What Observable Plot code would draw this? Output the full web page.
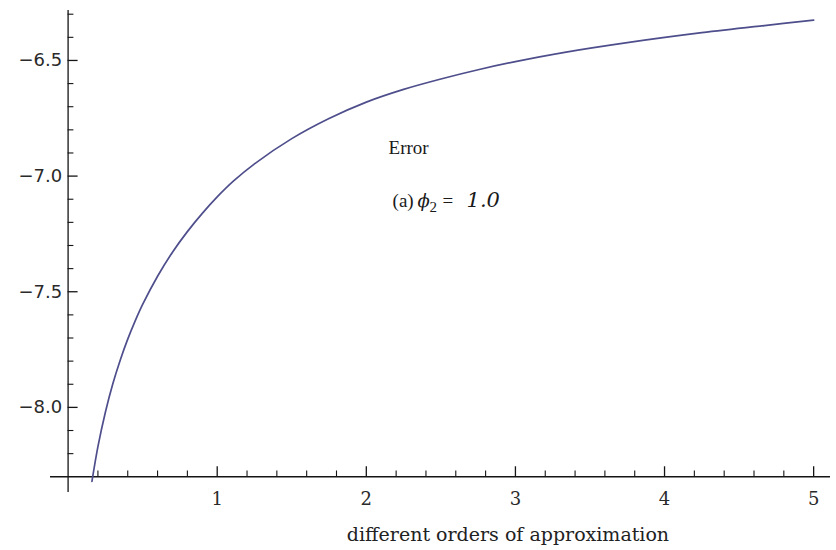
<!DOCTYPE html>
<html>
<head>
<meta charset="utf-8">
<script src="https://cdn.jsdelivr.net/npm/d3@7"></script>
<script src="https://cdn.jsdelivr.net/npm/@observablehq/plot@0.6"></script>
<style>
  body { margin: 0; background: #ffffff; }
  #chart svg { display: block; background: #ffffff; }
</style>
</head>
<body>
<div id="chart"></div>
<script>
// Error curve against the order of approximation
const orders = [0.16, 0.20, 0.25, 0.30, 0.35, 0.40, 0.45, 0.50, 0.60, 0.70, 0.80, 0.90, 1.00, 1.11,
                1.25, 1.50, 1.75, 2.00, 2.25, 2.50, 2.75, 3.00, 3.33, 3.75, 4.25, 4.67, 5.00];
const errorValues = [-8.32, -8.17, -8.021, -7.898, -7.795, -7.705, -7.626, -7.555, -7.433, -7.329, -7.24, -7.161, -7.09, -7.021,
                     -6.947, -6.838, -6.751, -6.68, -6.625, -6.58, -6.54, -6.505, -6.465, -6.423, -6.38, -6.349, -6.326];

// Axis ticks and labels
const xMajorTicks = [1, 2, 3, 4, 5];
const xMinorTicks = [0.2, 0.4, 0.6, 0.8, 1.2, 1.4, 1.6, 1.8, 2.2, 2.4, 2.6, 2.8, 3.2, 3.4, 3.6, 3.8, 4.2, 4.4, 4.6, 4.8];
const xTickLabels = ["1", "2", "3", "4", "5"];
const yMajorTicks = [-8.0, -7.5, -7.0, -6.5];
const yMinorTicks = [-8.2, -8.1, -7.9, -7.8, -7.7, -7.6, -7.4, -7.3, -7.2, -7.1, -6.9, -6.8, -6.7, -6.6, -6.4, -6.3];
const yTickLabels = ["\u22128.0", "\u22127.5", "\u22127.0", "\u22126.5"];

// Text
const xAxisTitle = "different orders of approximation";
const noteTitle = "Error";
const noteParts = ["(a)", "\u03d5", "2", "=", "1.0"];

// Axes cross at x = 0 and y = -8.3
const axisOriginX = 0;
const axisOriginY = -8.3;
const xDomain = [-0.118, 5.113];
const yDomain = [-8.368, -6.284];

const width = 836, height = 550;
const marginLeft = 50, marginRight = 6, marginTop = 10, marginBottom = 58;

// tick lengths in pixels, converted to data units along each axis
const pxX = (xDomain[1] - xDomain[0]) / (width - marginLeft - marginRight);
const pxY = (yDomain[1] - yDomain[0]) / (height - marginTop - marginBottom);
const majorLen = 10, minorLen = 5.8;

const axisColor = "#151515";
const serif = "'Liberation Serif', 'Times New Roman', serif";
const italicSerif = "'DejaVu Serif', serif";

// annotation anchor points
const noteX = 2.149, noteY = -6.906;
const note2X = 2.176, note2Y = -7.135;

const chart = Plot.plot({
  width, height, marginLeft, marginRight, marginTop, marginBottom,
  style: {background: "#ffffff", overflow: "visible"},
  x: {domain: xDomain, axis: null},
  y: {domain: yDomain, axis: null},
  marks: [
    // axis lines
    Plot.ruleY([axisOriginY], {stroke: axisColor, strokeWidth: 1.3}),
    Plot.ruleX([axisOriginX], {stroke: axisColor, strokeWidth: 1.3}),
    // x ticks, pointing up from the axis
    Plot.ruleX(xMajorTicks, {x: d => d, y1: axisOriginY, y2: axisOriginY + majorLen * pxY, stroke: axisColor, strokeWidth: 1.3}),
    Plot.ruleX(xMinorTicks, {x: d => d, y1: axisOriginY, y2: axisOriginY + minorLen * pxY, stroke: axisColor, strokeWidth: 1.1}),
    // y ticks, pointing right from the axis
    Plot.ruleY(yMajorTicks, {y: d => d, x1: axisOriginX, x2: axisOriginX + majorLen * pxX, stroke: axisColor, strokeWidth: 1.3}),
    Plot.ruleY(yMinorTicks, {y: d => d, x1: axisOriginX, x2: axisOriginX + minorLen * pxX, stroke: axisColor, strokeWidth: 1.1}),
    // tick labels
    Plot.text(xMajorTicks, {
      x: d => d, y: axisOriginY, text: (d, i) => xTickLabels[i],
      dy: 28, lineAnchor: "bottom", textAnchor: "middle",
      fontFamily: "'DejaVu Serif', serif", fontSize: 18, fill: "#2a2a2a"
    }),
    Plot.text(yMajorTicks, {
      x: axisOriginX, y: d => d, text: (d, i) => yTickLabels[i],
      dx: -6, lineAnchor: "middle", textAnchor: "end",
      fontFamily: "'DejaVu Sans', sans-serif", fontSize: 18, fill: "#2a2a2a"
    }),
    // axis title
    Plot.text([xAxisTitle], {
      x: 2.95, y: axisOriginY, text: d => d, dy: 64, lineAnchor: "bottom", textAnchor: "middle",
      fontFamily: "'DejaVu Serif', serif", fontSize: 19, fill: "#222"
    }),
    // the error curve
    Plot.line(orders.map((x, i) => ({x, y: errorValues[i]})), {
      x: "x", y: "y", curve: "catmull-rom",
      stroke: "#4e4e8c", strokeWidth: 1.7
    }),
    // annotation
    Plot.text([noteTitle], {
      x: noteX, y: noteY, text: d => d, textAnchor: "start", lineAnchor: "bottom",
      fontFamily: serif, fontSize: 19, fill: "#1a1a1a"
    }),
    Plot.text([noteParts[0]], {x: note2X, y: note2Y, text: d => d, textAnchor: "start", lineAnchor: "bottom",
      fontFamily: serif, fontSize: 19, fill: "#1a1a1a"}),
    Plot.text([noteParts[1]], {x: note2X, y: note2Y, text: d => d, dx: 25, textAnchor: "start", lineAnchor: "bottom",
      fontFamily: italicSerif, fontStyle: "italic", fontSize: 18, fill: "#1a1a1a"}),
    Plot.text([noteParts[2]], {x: note2X, y: note2Y, text: d => d, dx: 37, dy: 5, textAnchor: "start", lineAnchor: "bottom",
      fontFamily: serif, fontSize: 15, fill: "#1a1a1a"}),
    Plot.text([noteParts[3]], {x: note2X, y: note2Y, text: d => d, dx: 50, textAnchor: "start", lineAnchor: "bottom",
      fontFamily: serif, fontSize: 19, fill: "#1a1a1a"}),
    Plot.text([noteParts[4]], {x: note2X, y: note2Y, text: d => d, dx: 74, textAnchor: "start", lineAnchor: "bottom",
      fontFamily: italicSerif, fontStyle: "italic", fontSize: 21, fill: "#1a1a1a"})
  ]
});

document.getElementById("chart").appendChild(chart);
</script>
</body>
</html>
